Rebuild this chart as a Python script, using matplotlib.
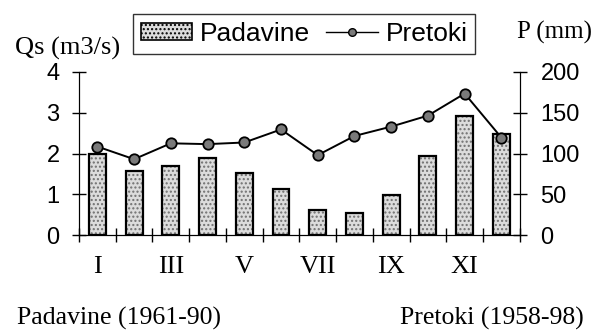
import matplotlib.pyplot as plt
from matplotlib.patches import Patch
from matplotlib.lines import Line2D
import numpy as np

months = ["I", "II", "III", "IV", "V", "VI", "VII", "VIII", "IX", "X", "XI", "XII"]
month_labels = ["I", "", "III", "", "V", "", "VII", "", "IX", "", "XI", ""]
padavine = [99, 79, 85, 94, 76, 56, 31, 27, 49, 97, 146, 124]  # mm
pretoki = [2.17, 1.86, 2.25, 2.23, 2.27, 2.59, 1.96, 2.43, 2.66, 2.93, 3.47, 2.39]  # m3/s

serif = "Liberation Serif"
sans = "Liberation Sans"

fig = plt.figure(figsize=(5.94, 3.31), dpi=100)
ax = fig.add_axes([0.133, 0.29, 0.742, 0.4925])
ax2 = ax.twinx()

x = np.arange(len(months))

# precipitation bars on the right axis: stippled fill, then black outline
ax2.bar(x, padavine, width=0.46, color="#dcdcdc", hatch="....",
        edgecolor="#707070", linewidth=0, zorder=2)
ax2.bar(x, padavine, width=0.46, fill=False, edgecolor="black",
        linewidth=1.6, zorder=3)

# discharge line on the left axis
ax.plot(x, pretoki, "-k", lw=1.4, marker="o", ms=7.5,
        mfc="#7a7a7a", mec="black", mew=1.3, zorder=5)
ax.set_zorder(ax2.get_zorder() + 1)
ax.patch.set_visible(False)

ax.set_xlim(-0.5, 11.5)
ax.set_ylim(0, 4)
ax2.set_ylim(0, 200)

for a in (ax, ax2):
    a.spines["top"].set_visible(False)

ax.set_yticks([0, 1, 2, 3, 4])
ax2.set_yticks([0, 50, 100, 150, 200])
ax.tick_params(axis="y", direction="inout", length=10, width=1,
               labelsize=17, pad=9)
ax2.tick_params(axis="y", direction="inout", length=10, width=1,
                labelsize=17, pad=10)
for lab in ax.get_yticklabels() + ax2.get_yticklabels():
    lab.set_fontfamily(sans)

# month labels centred, boundary ticks crossing the axis
ax.set_xticks(x)
ax.set_xticklabels(month_labels, fontfamily=serif, fontsize=19)
ax.tick_params(axis="x", length=0, pad=15)
ax.set_xticks(np.arange(-0.5, 12.0, 1.0), minor=True)
ax.tick_params(axis="x", which="minor", direction="inout", length=10, width=1)

fig.text(0.025, 0.835, "Qs (m3/s)", fontfamily=serif, fontsize=19,
         ha="left", va="baseline")
fig.text(0.87, 0.882, "P (mm)", fontfamily=serif, fontsize=18,
         ha="left", va="baseline")
fig.text(0.028, 0.02, "Padavine (1961-90)", fontfamily=serif, fontsize=18.5,
         ha="left", va="baseline")
fig.text(0.983, 0.02, "Pretoki (1958-98)", fontfamily=serif, fontsize=18.5,
         ha="right", va="baseline")

handles = [
    Patch(facecolor="#dcdcdc", hatch="....", edgecolor="black", linewidth=1.2),
    Line2D([], [], color="black", lw=1, marker="o", ms=5.5,
           mfc="#7a7a7a", mec="black"),
]
leg = fig.legend(handles, ["Padavine", "Pretoki"], ncol=2,
                 loc="center", bbox_to_anchor=(0.512, 0.897),
                 prop={"family": sans, "size": 19},
                 frameon=True, fancybox=False, edgecolor="black",
                 handlelength=1.95, handleheight=0.6, handletextpad=0.3,
                 columnspacing=0.6, borderpad=0.3, borderaxespad=0)
leg.get_frame().set_linewidth(1)

fig.savefig("out.png", dpi=100)
